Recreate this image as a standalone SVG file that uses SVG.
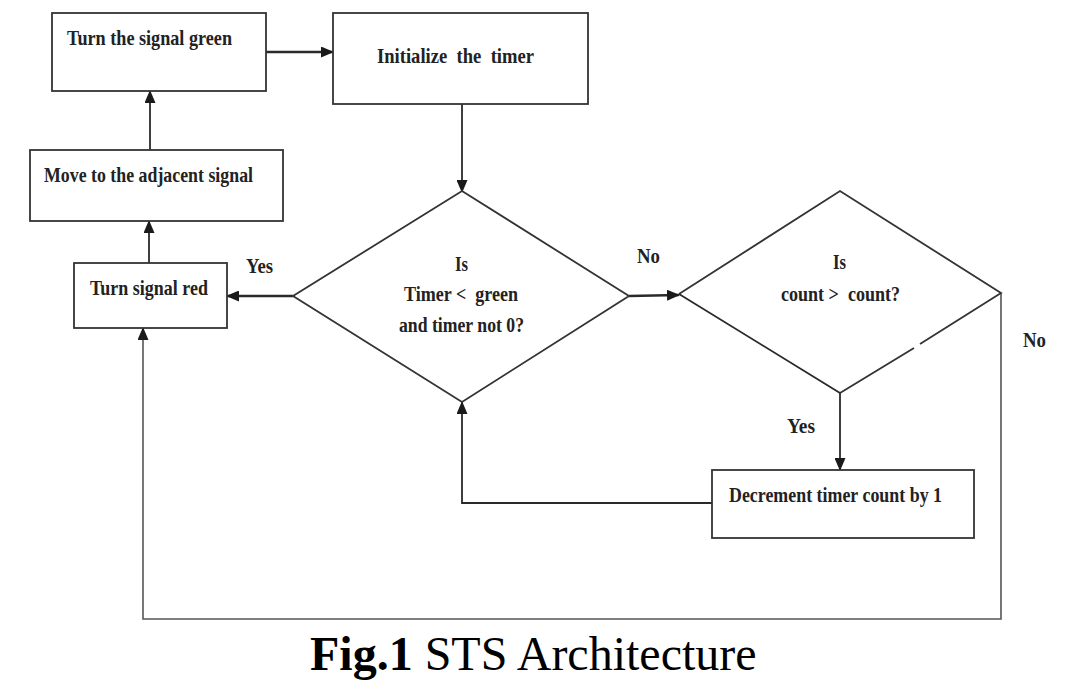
<svg xmlns="http://www.w3.org/2000/svg" width="1074" height="700" viewBox="0 0 1074 700">
<style>
.box{fill:#fff;stroke:#333;stroke-width:1.8}
.t{font-family:"Liberation Serif","Times New Roman",serif;font-weight:bold;font-size:21px;fill:#222;white-space:pre}
.c{stroke:#2a2a2a;stroke-width:1.8;fill:none}
.th{stroke-width:2.6}
.g{stroke:#555;stroke-width:1.6}
.cap{font-family:"Liberation Serif","Times New Roman",serif;font-size:48px;fill:#000}
</style>
<defs>
<marker id="ah" markerUnits="userSpaceOnUse" markerWidth="13" markerHeight="11" refX="12" refY="5.5" orient="auto">
<path d="M0,0 L13,5.5 L0,11 z" fill="#1a1a1a"/>
</marker>
</defs>
<rect width="1074" height="700" fill="#fff"/>
<g id="connectors">
<line class="c th" x1="266" y1="52" x2="333" y2="52" marker-end="url(#ah)"/>
<line class="c" x1="462" y1="104" x2="462" y2="192" marker-end="url(#ah)"/>
<line class="c th" x1="293" y1="296" x2="227" y2="296" marker-end="url(#ah)"/>
<line class="c" x1="150" y1="150" x2="150" y2="91" marker-end="url(#ah)"/>
<line class="c" x1="149" y1="263" x2="149" y2="221" marker-end="url(#ah)"/>
<line class="c th" x1="629" y1="296" x2="679" y2="295" marker-end="url(#ah)"/>
<line class="c" x1="840" y1="393" x2="840" y2="470" marker-end="url(#ah)"/>
<polyline class="c" points="712,503 462,503 462,402" marker-end="url(#ah)"/>
<polyline class="c g" points="1001,293 1001,619 143,619 143,328" marker-end="url(#ah)"/>
<text class="t" x="246" y="273" textLength="27" lengthAdjust="spacingAndGlyphs">Yes</text>
<text class="t" x="637" y="263" textLength="23" lengthAdjust="spacingAndGlyphs">No</text>
<text class="t" x="1023" y="347" textLength="23" lengthAdjust="spacingAndGlyphs">No</text>
<text class="t" x="787" y="433" textLength="28" lengthAdjust="spacingAndGlyphs">Yes</text>
</g>
<g id="n-green">
<rect class="box" x="52" y="13" width="214" height="78"/>
<text class="t" x="67" y="45" textLength="165" lengthAdjust="spacingAndGlyphs">Turn the signal green</text>
</g>
<g id="n-init">
<rect class="box" x="333" y="13" width="255" height="91"/>
<text class="t" x="377" y="63" textLength="157" lengthAdjust="spacingAndGlyphs">Initialize  the  timer</text>
</g>
<g id="n-move">
<rect class="box" x="30" y="150" width="253" height="71"/>
<text class="t" x="44" y="182" textLength="209" lengthAdjust="spacingAndGlyphs">Move to the adjacent signal</text>
</g>
<g id="n-red">
<rect class="box" x="74" y="263" width="153" height="65"/>
<text class="t" x="90" y="295" textLength="118" lengthAdjust="spacingAndGlyphs">Turn signal red</text>
</g>
<g id="n-dec1">
<polygon class="box" points="462,191 629,296 462,402 293,296"/>
<text class="t" x="455" y="271" textLength="13" lengthAdjust="spacingAndGlyphs">Is</text>
<text class="t" x="404" y="301" textLength="114" lengthAdjust="spacingAndGlyphs">Timer &lt;  green</text>
<text class="t" x="399" y="332" textLength="125" lengthAdjust="spacingAndGlyphs">and timer not 0?</text>
</g>
<g id="n-dec2">
<path class="box" fill="#fff" d="M679,294 L840,191 L1001,293 L920,344 M914,348 L840,393 Z" style="stroke-linejoin:miter"/>
<path class="c" d="M679,294 L840,393"/>
<text class="t" x="833" y="269" textLength="13" lengthAdjust="spacingAndGlyphs">Is</text>
<text class="t" x="781" y="301" textLength="119" lengthAdjust="spacingAndGlyphs">count &gt;  count?</text>
</g>
<g id="n-decrement">
<rect class="box" x="712" y="470" width="262" height="68"/>
<text class="t" x="729" y="502" textLength="213" lengthAdjust="spacingAndGlyphs">Decrement timer count by 1</text>
</g>
<g id="caption">
<text class="cap" x="310" y="670"><tspan font-weight="bold">Fig.1</tspan> STS Architecture</text>
</g>
</svg>
